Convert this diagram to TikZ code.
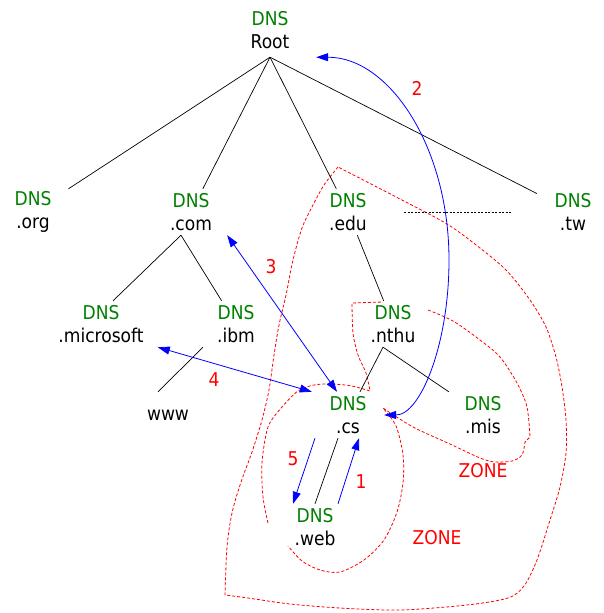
\documentclass[tikz,border=0pt]{standalone}
\usepackage{fontspec}
\setmainfont{DejaVu Sans}[FakeStretch=0.9]
\usetikzlibrary{arrows.meta}
\definecolor{DnsClr}{RGB}{0,128,0}
\definecolor{ZoneClr}{RGB}{255,0,0}
\definecolor{QueryClr}{RGB}{0,0,255}
\newcommand{\DnsText}[1]{\textcolor{DnsClr}{DNS}\\#1}

\begin{document}
\begin{tikzpicture}[x=1pt,y=-1pt,
  every node/.style={font=\fontsize{19}{23}\selectfont},
  server/.style={align=center,minimum width=72pt,minimum height=46pt,inner xsep=14pt,inner ysep=0pt},
  link/.style={line width=0.7pt,color=black},
  query/.style={line width=0.8pt,color=QueryClr,-{Triangle[length=12pt,width=8pt]}},
  twoway/.style={query,{Triangle[length=12pt,width=8pt]}-{Triangle[length=12pt,width=8pt]}},
  zone/.style={line width=0.8pt,color=ZoneClr,dash pattern=on 3pt off 2pt},
  num/.style={text=ZoneClr}]
\useasboundingbox (0,0) rectangle (604,613);

\draw[zone] plot[smooth] coordinates {(338,167) (324,185) (313,205) (302,228) (293,260) (286,295) (279,325) (274,355) (269,390) (262,420) (252,452) (241,482) (232,513) (227,547) (225,595)}
  -- plot[smooth] coordinates {(225,595) (248,598) (290,604) (340,608) (400,610) (467,605) (508,598) (524,586) (537,560) (550,520) (560,487) (566,453) (566,420) (562,387) (556,357) (546,327) (530,300) (507,271) (480,248) (447,224) (400,199) (338,167)};
\draw[zone] plot[smooth] coordinates {(268,523) (263,497) (262,463) (268,427) (282,407) (298,391) (314,385) (332,384) (352,386) (370,391)}
  -- plot[smooth] coordinates {(370,391) (366,373) (358,355) (353,333) (352,303)} -- (383,302);
\draw[zone] plot[smooth] coordinates {(428,310) (453,321) (480,340) (500,357) (517,383) (527,407) (530,437)}
  -- (525,442) -- plot[smooth] coordinates {(525,442) (522,455) (512,461) (495,462) (480,458) (450,444) (413,427) (383,408)}
  -- plot[smooth] coordinates {(383,408) (396,426) (403,455) (403,483) (397,512) (384,540) (364,560) (340,572) (320,570) (302,561) (288,546)};

\node[server,minimum width=92pt,minimum height=54pt] (root) at (270,30) {\DnsText{Root}};
\node[server] (org) at (33,212) {\DnsText{.org}};
\node[server] (com) at (191,212) {\DnsText{.com}};
\node[server] (edu) at (348,212) {\DnsText{.edu}};
\node[server] (tw) at (573,212) {\DnsText{.tw}};
\node[server] (microsoft) at (101,324) {\DnsText{.microsoft}};
\node[server] (ibm) at (236,324) {\DnsText{.ibm}};
\node[server] (nthu) at (393,324) {\DnsText{.nthu}};
\node[server] (cs) at (348,415) {\DnsText{.cs}};
\node[server] (mis) at (483,415) {\DnsText{.mis}};
\node[server] (www) at (168,415) {www};
\node[server] (web) at (315,527) {\DnsText{.web}};

\draw[link] (root.south) -- (org);
\draw[link] (root.south) -- (com);
\draw[link] (root.south) -- (edu);
\draw[link] (root.south) -- (tw);
\draw[link] ([xshift=-10pt]com.south) -- ([xshift=12pt]microsoft.north);
\draw[link] ([xshift=-10pt]com.south) -- (ibm);
\draw[link] (edu) -- (nthu);
\draw[link] ([xshift=-10pt]nthu.south) -- (cs);
\draw[link] ([xshift=-10pt]nthu.south) -- (mis);
\draw[link] ([xshift=-33pt]ibm.south) -- ([xshift=-10pt]www.north);
\draw[link] ([xshift=-10pt]cs.south) -- (web.north);
\draw[link,dash pattern=on 2pt off 1.5pt] ([xshift=20pt]edu.east) -- ([xshift=-25pt]tw.west);

\coordinate (turn) at (449,260);
\draw[twoway] (root.south east) .. controls +(73,0) and +(0,-113) .. (turn) .. controls +(0,85) and +(36,0) .. (cs.east);
\draw[twoway] (com.south east) -- ([xshift=-11pt]cs.north);
\draw[twoway] (microsoft.south east) -- (cs.north west);
\draw[query] ([xshift=-33pt]cs.south) -- ([xshift=-22pt]web.north);
\draw[query] ([xshift=23pt]web.north) -- ([xshift=11pt]cs.south);

\node[num] (n1) at (361,482) {1};
\node[num] (n2) at (417,88) {2};
\node[num] (n3) at (271,267) {3};
\node[num] (n4) at (214,380) {4};
\node[num] (n5) at (293,459) {5};
\node[num] (zoneA) at (483,471) {ZONE};
\node[num] (zoneB) at (437,538) {ZONE};

\end{tikzpicture}
\end{document}
